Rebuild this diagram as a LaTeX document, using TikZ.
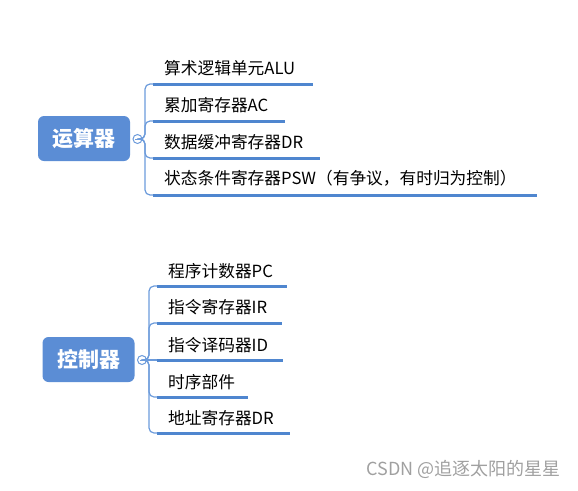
\documentclass[tikz,border=0pt]{standalone}
\usepackage{fontspec}
\setmainfont{Noto Sans CJK SC}
\definecolor{topicblue}{HTML}{5B8DD5}
\definecolor{lineblue}{HTML}{4F86CF}
\definecolor{connblue}{HTML}{6C9BDB}
\definecolor{wmgray}{HTML}{A0A0A0}
\begin{document}
\begin{tikzpicture}[x=1pt,y=-1pt,
  topic/.style={fill=topicblue, rounded corners=6pt, text=white,
    font=\fontsize{21}{25}\selectfont\bfseries, minimum width=92pt,
    minimum height=45pt, inner sep=0pt},
  leaf/.style={anchor=west, inner sep=0pt, font=\fontsize{16.7}{19}\selectfont, text=black},
  uline/.style={draw=lineblue, line width=3pt},
  conn/.style={draw=connblue, line width=1.2pt, rounded corners=5pt},
  fold/.style={circle, draw=connblue, fill=white, line width=1pt,
    minimum size=9pt, inner sep=0pt}]
\useasboundingbox (0,0) rectangle (578,490);

% ---------- group 1 ----------
\node[topic] (t1) at (84,138.5) {运算器};
\node[fold] (f1) at (137.5,139) {};
\draw[connblue, line width=0.8pt] ([xshift=-2.2pt]f1.center) -- ([xshift=2.2pt]f1.center);
\coordinate (j1) at (145,139);

\node[leaf] (a1) at (164,68) {算术逻辑单元ALU};
\node[leaf] (a2) at (164,105) {累加寄存器AC};
\node[leaf] (a3) at (164,142) {数据缓冲寄存器DR};
\node[leaf] (a4) at (164,178) {状态条件寄存器PSW（有争议，有时归为控制）};

\coordinate (a1s) at (153,84);  \coordinate (a1e) at (313,84);
\coordinate (a2s) at (153,121); \coordinate (a2e) at (285,121);
\coordinate (a3s) at (153,158); \coordinate (a3e) at (320,158);
\coordinate (a4s) at (153,195); \coordinate (a4e) at (537,195);

\foreach \i in {1,2,3,4}{
  \draw[conn] (f1.east) -- (j1) |- (a\i s);
  \draw[uline] (a\i s) -- (a\i e);
}

% ---------- group 2 ----------
\node[topic] (t2) at (88.5,359.5) {控制器};
\node[fold] (f2) at (142,360) {};
\draw[connblue, line width=0.8pt] ([xshift=-2.2pt]f2.center) -- ([xshift=2.2pt]f2.center);
\coordinate (j2) at (149,360);

\node[leaf] (b1) at (168,271) {程序计数器PC};
\node[leaf] (b2) at (168,307) {指令寄存器IR};
\node[leaf] (b3) at (168,345) {指令译码器ID};
\node[leaf] (b4) at (168,382) {时序部件};
\node[leaf] (b5) at (168,418) {地址寄存器DR};

\coordinate (b1s) at (157,286); \coordinate (b1e) at (287,286);
\coordinate (b2s) at (157,323); \coordinate (b2e) at (282,323);
\coordinate (b3s) at (157,360); \coordinate (b3e) at (283,360);
\coordinate (b4s) at (157,397); \coordinate (b4e) at (248,397);
\coordinate (b5s) at (157,433); \coordinate (b5e) at (290,433);

\foreach \i in {1,2,4,5}{
  \draw[conn] (f2.east) -- (j2) |- (b\i s);
}
\draw[conn] (f2.east) -- (b3s);
\foreach \i in {1,2,3,4,5}{
  \draw[uline] (b\i s) -- (b\i e);
}

% ---------- watermark ----------
\node[anchor=east, inner sep=0pt, text=wmgray, font=\fontsize{18}{20}\selectfont] (wm) at (561,469) {CSDN @追逐太阳的星星};
\end{tikzpicture}
\end{document}
